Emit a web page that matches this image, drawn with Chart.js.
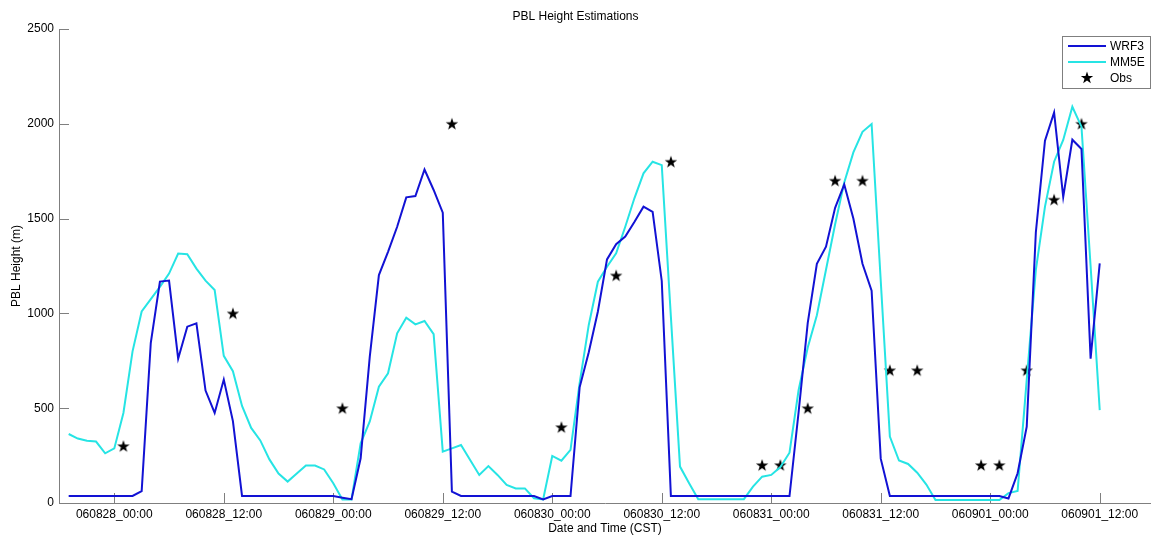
<!DOCTYPE html>
<html lang="en">
<head>
  <meta charset="UTF-8">
  <title>PBL Height Estimations</title>
  <script src="https://cdn.jsdelivr.net/npm/chart.js"></script>
  <style>
    body {
      margin: 0;
      background: #ffffff;
    }
    canvas {
      display: block;
    }
  </style>
</head>
<body>

<canvas id="pbl" width="1151" height="537"></canvas>

<script>
  // hours relative to 060828_00:00 (CST)
  const hours = [
    -5, -4, -3, -2, -1, 0, 1, 2, 3, 4, 5, 6, 7, 8, 9, 10, 11, 12, 13, 14,
    15, 16, 17, 18, 19, 20, 21, 22, 23, 24, 25, 26, 27, 28, 29, 30, 31, 32, 33, 34,
    35, 36, 37, 38, 39, 40, 41, 42, 43, 44, 45, 46, 47, 48, 49, 50, 51, 52, 53, 54,
    55, 56, 57, 58, 59, 60, 61, 62, 63, 64, 65, 66, 67, 68, 69, 70, 71, 72, 73, 74,
    75, 76, 77, 78, 79, 80, 81, 82, 83, 84, 85, 86, 87, 88, 89, 90, 91, 92, 93, 94,
    95, 96, 97, 98, 99, 100, 101, 102, 103, 104, 105, 106, 107, 108
  ];

  const wrf3 = [
    37, 37, 37, 37, 37, 37, 37, 37, 63, 845, 1168, 1173, 761, 930, 948, 593, 475, 651, 432, 37,
    37, 37, 37, 37, 37, 37, 37, 37, 37, 37, 28, 20, 236, 772, 1202, 1325, 1457, 1612, 1619, 1759,
    1651, 1531, 60, 37, 37, 37, 37, 37, 37, 37, 37, 37, 19, 37, 37, 37, 610, 795, 1010, 1285,
    1365, 1405, 1482, 1563, 1535, 1171, 37, 37, 37, 37, 37, 37, 37, 37, 37, 37, 37, 37, 37, 37,
    480, 950, 1262, 1352, 1557, 1680, 1500, 1262, 1120, 234, 37, 37, 37, 37, 37, 37, 37, 37, 37, 37,
    37, 37, 37, 24, 157, 403, 1428, 1911, 2060, 1614, 1916, 1867, 761, 1264
  ];

  const mm5e = [
    364, 340, 328, 324, 262, 288, 475, 800, 1010, 1075, 1140, 1210, 1316, 1312, 1236, 1173, 1123, 776, 695, 512,
    396, 330, 230, 155, 113, 155, 198, 198, 177, 104, 19, 19, 315, 430, 613, 684, 895, 977, 942, 960,
    891, 271, 288, 306, 227, 148, 195, 148, 95, 77, 77, 25, 19, 248, 223, 280, 632, 939, 1167, 1246,
    1317, 1457, 1607, 1739, 1800, 1782, 983, 192, 104, 20, 20, 20, 20, 20, 20, 86, 139, 148, 190, 265,
    596, 820, 990, 1230, 1470, 1690, 1849, 1958, 1999, 1172, 350, 224, 206, 160, 97, 16, 16, 16, 16, 16,
    16, 16, 16, 52, 64, 649, 1229, 1563, 1800, 1915, 2090, 1985, 1250, 490
  ];

  const obsHours = [1, 13, 25, 37, 49, 55, 61, 71, 73, 76, 79, 82, 85, 88, 95, 97, 100, 103, 106];
  const obsValues = [300, 1000, 500, 2000, 400, 1200, 1800, 200, 200, 500, 1700, 1700, 700, 700, 200, 200, 700, 1600, 2000];

  const tickHours = [0, 12, 24, 36, 48, 60, 72, 84, 96, 108];
  const tickLabels = ['060828_00:00', '060828_12:00', '060829_00:00', '060829_12:00', '060830_00:00',
                      '060830_12:00', '060831_00:00', '060831_12:00', '060901_00:00', '060901_12:00'];

  const FONT = "'Liberation Sans', Arial, Helvetica, sans-serif";
  const AXIS = '#7f7f7f';
  const BLUE = '#1212d4';
  const CYAN = '#26e4e4';

  // filled five point star, like matlab's pentagram marker
  function starPath(ctx, cx, cy, ro, ri) {
    ctx.beginPath();
    for (let i = 0; i < 10; i++) {
      const r = i % 2 === 0 ? ro : ri;
      const a = -Math.PI / 2 + i * Math.PI / 5;
      const px = cx + r * Math.cos(a);
      const py = cy + r * Math.sin(a);
      if (i === 0) ctx.moveTo(px, py); else ctx.lineTo(px, py);
    }
    ctx.closePath();
  }

  const starImg = document.createElement('canvas');
  starImg.width = 14;
  starImg.height = 14;
  (function () {
    const c = starImg.getContext('2d');
    c.fillStyle = '#000';
    starPath(c, 7, 7.5, 6.5, 2.6);
    c.fill();
  })();

  const inwardTicks = {
    id: 'inwardTicks',
    beforeDatasetsDraw(chart) {
      const {ctx, chartArea, scales} = chart;
      ctx.save();
      ctx.strokeStyle = AXIS;
      ctx.lineWidth = 1;
      ctx.beginPath();
      scales.x.ticks.forEach(t => {
        const px = Math.round(scales.x.getPixelForValue(t.value)) + 0.5;
        ctx.moveTo(px, chartArea.bottom);
        ctx.lineTo(px, chartArea.bottom - 10);
      });
      scales.y.ticks.forEach(t => {
        const py = Math.round(scales.y.getPixelForValue(t.value)) + 0.5;
        ctx.moveTo(chartArea.left, py);
        ctx.lineTo(chartArea.left + 10, py);
      });
      ctx.stroke();
      ctx.restore();
    }
  };

  const boxLegend = {
    id: 'boxLegend',
    afterDraw(chart) {
      const ctx = chart.ctx;
      const items = chart.data.datasets;
      ctx.save();
      ctx.fillStyle = '#fff';
      ctx.fillRect(1062, 36, 88, 52);
      ctx.strokeStyle = AXIS;
      ctx.lineWidth = 1;
      ctx.strokeRect(1062.5, 36.5, 88, 52);
      ctx.font = '12px ' + FONT;
      ctx.textBaseline = 'middle';
      ctx.textAlign = 'left';
      const rows = [46, 62, 78];
      items.forEach((ds, i) => {
        const y = rows[i];
        if (ds.showLine === false) {
          starPath(ctx, 1087, y, 6.5, 2.6);
          ctx.fillStyle = '#000';
          ctx.fill();
        } else {
          ctx.strokeStyle = ds.borderColor;
          ctx.lineWidth = 2;
          ctx.beginPath();
          ctx.moveTo(1068, y);
          ctx.lineTo(1106, y);
          ctx.stroke();
        }
        ctx.fillStyle = '#000';
        ctx.fillText(ds.label, 1110, y + 1);
      });
      ctx.restore();
    }
  };

  const ctx = document.getElementById('pbl').getContext('2d');
  const chart = new Chart(ctx, {
    type: 'line',
    data: {
      datasets: [
        {
          label: 'WRF3',
          data: hours.map((h, i) => ({x: h, y: wrf3[i]})),
          borderColor: BLUE,
          borderWidth: 2,
          pointRadius: 0,
          tension: 0
        },
        {
          label: 'MM5E',
          data: hours.map((h, i) => ({x: h, y: mm5e[i]})),
          borderColor: CYAN,
          borderWidth: 2,
          pointRadius: 0,
          tension: 0
        },
        {
          label: 'Obs',
          data: obsHours.map((h, i) => ({x: h, y: obsValues[i]})),
          showLine: false,
          pointStyle: starImg,
          pointRadius: 7,
          borderColor: '#000',
          backgroundColor: '#000'
        }
      ]
    },
    options: {
      responsive: false,
      animation: false,
      layout: { padding: 0, autoPadding: false },
      plugins: {
        legend: { display: false },
        tooltip: { enabled: false },
        title: {
          display: true,
          text: 'PBL Height Estimations',
          color: '#000',
          font: { family: FONT, size: 12, weight: 'normal' },
          padding: { top: 9, bottom: 5.6 }
        }
      },
      scales: {
        x: {
          type: 'linear',
          min: -6.06,
          max: 113.62,
          afterBuildTicks: s => { s.ticks = tickHours.map(v => ({value: v})); },
          afterFit: s => {
            s.height = 34;
            s.paddingLeft = 0;
            s.paddingRight = 0;
          },
          ticks: {
            autoSkip: false,
            maxRotation: 0,
            padding: 4,
            color: '#000',
            font: { family: FONT, size: 12 },
            callback: v => tickLabels[tickHours.indexOf(v)]
          },
          grid: { drawOnChartArea: false, drawTicks: false },
          border: { color: AXIS, width: 1 },
          title: {
            display: true,
            text: 'Date and Time (CST)',
            color: '#000',
            font: { family: FONT, size: 12 },
            padding: { top: 0, bottom: 1 }
          }
        },
        y: {
          min: 0,
          max: 2500,
          afterFit: s => { s.width = 59; },
          ticks: {
            stepSize: 500,
            padding: 5,
            color: '#000',
            font: { family: FONT, size: 12 },
            callback: v => String(v)
          },
          grid: { drawOnChartArea: false, drawTicks: false },
          border: { color: AXIS, width: 1 },
          title: {
            display: true,
            text: 'PBL Height (m)',
            color: '#000',
            font: { family: FONT, size: 12 },
            padding: { top: 9, bottom: 0 }
          }
        }
      }
    },
    plugins: [inwardTicks, boxLegend]
  });
</script>

</body>
</html>
